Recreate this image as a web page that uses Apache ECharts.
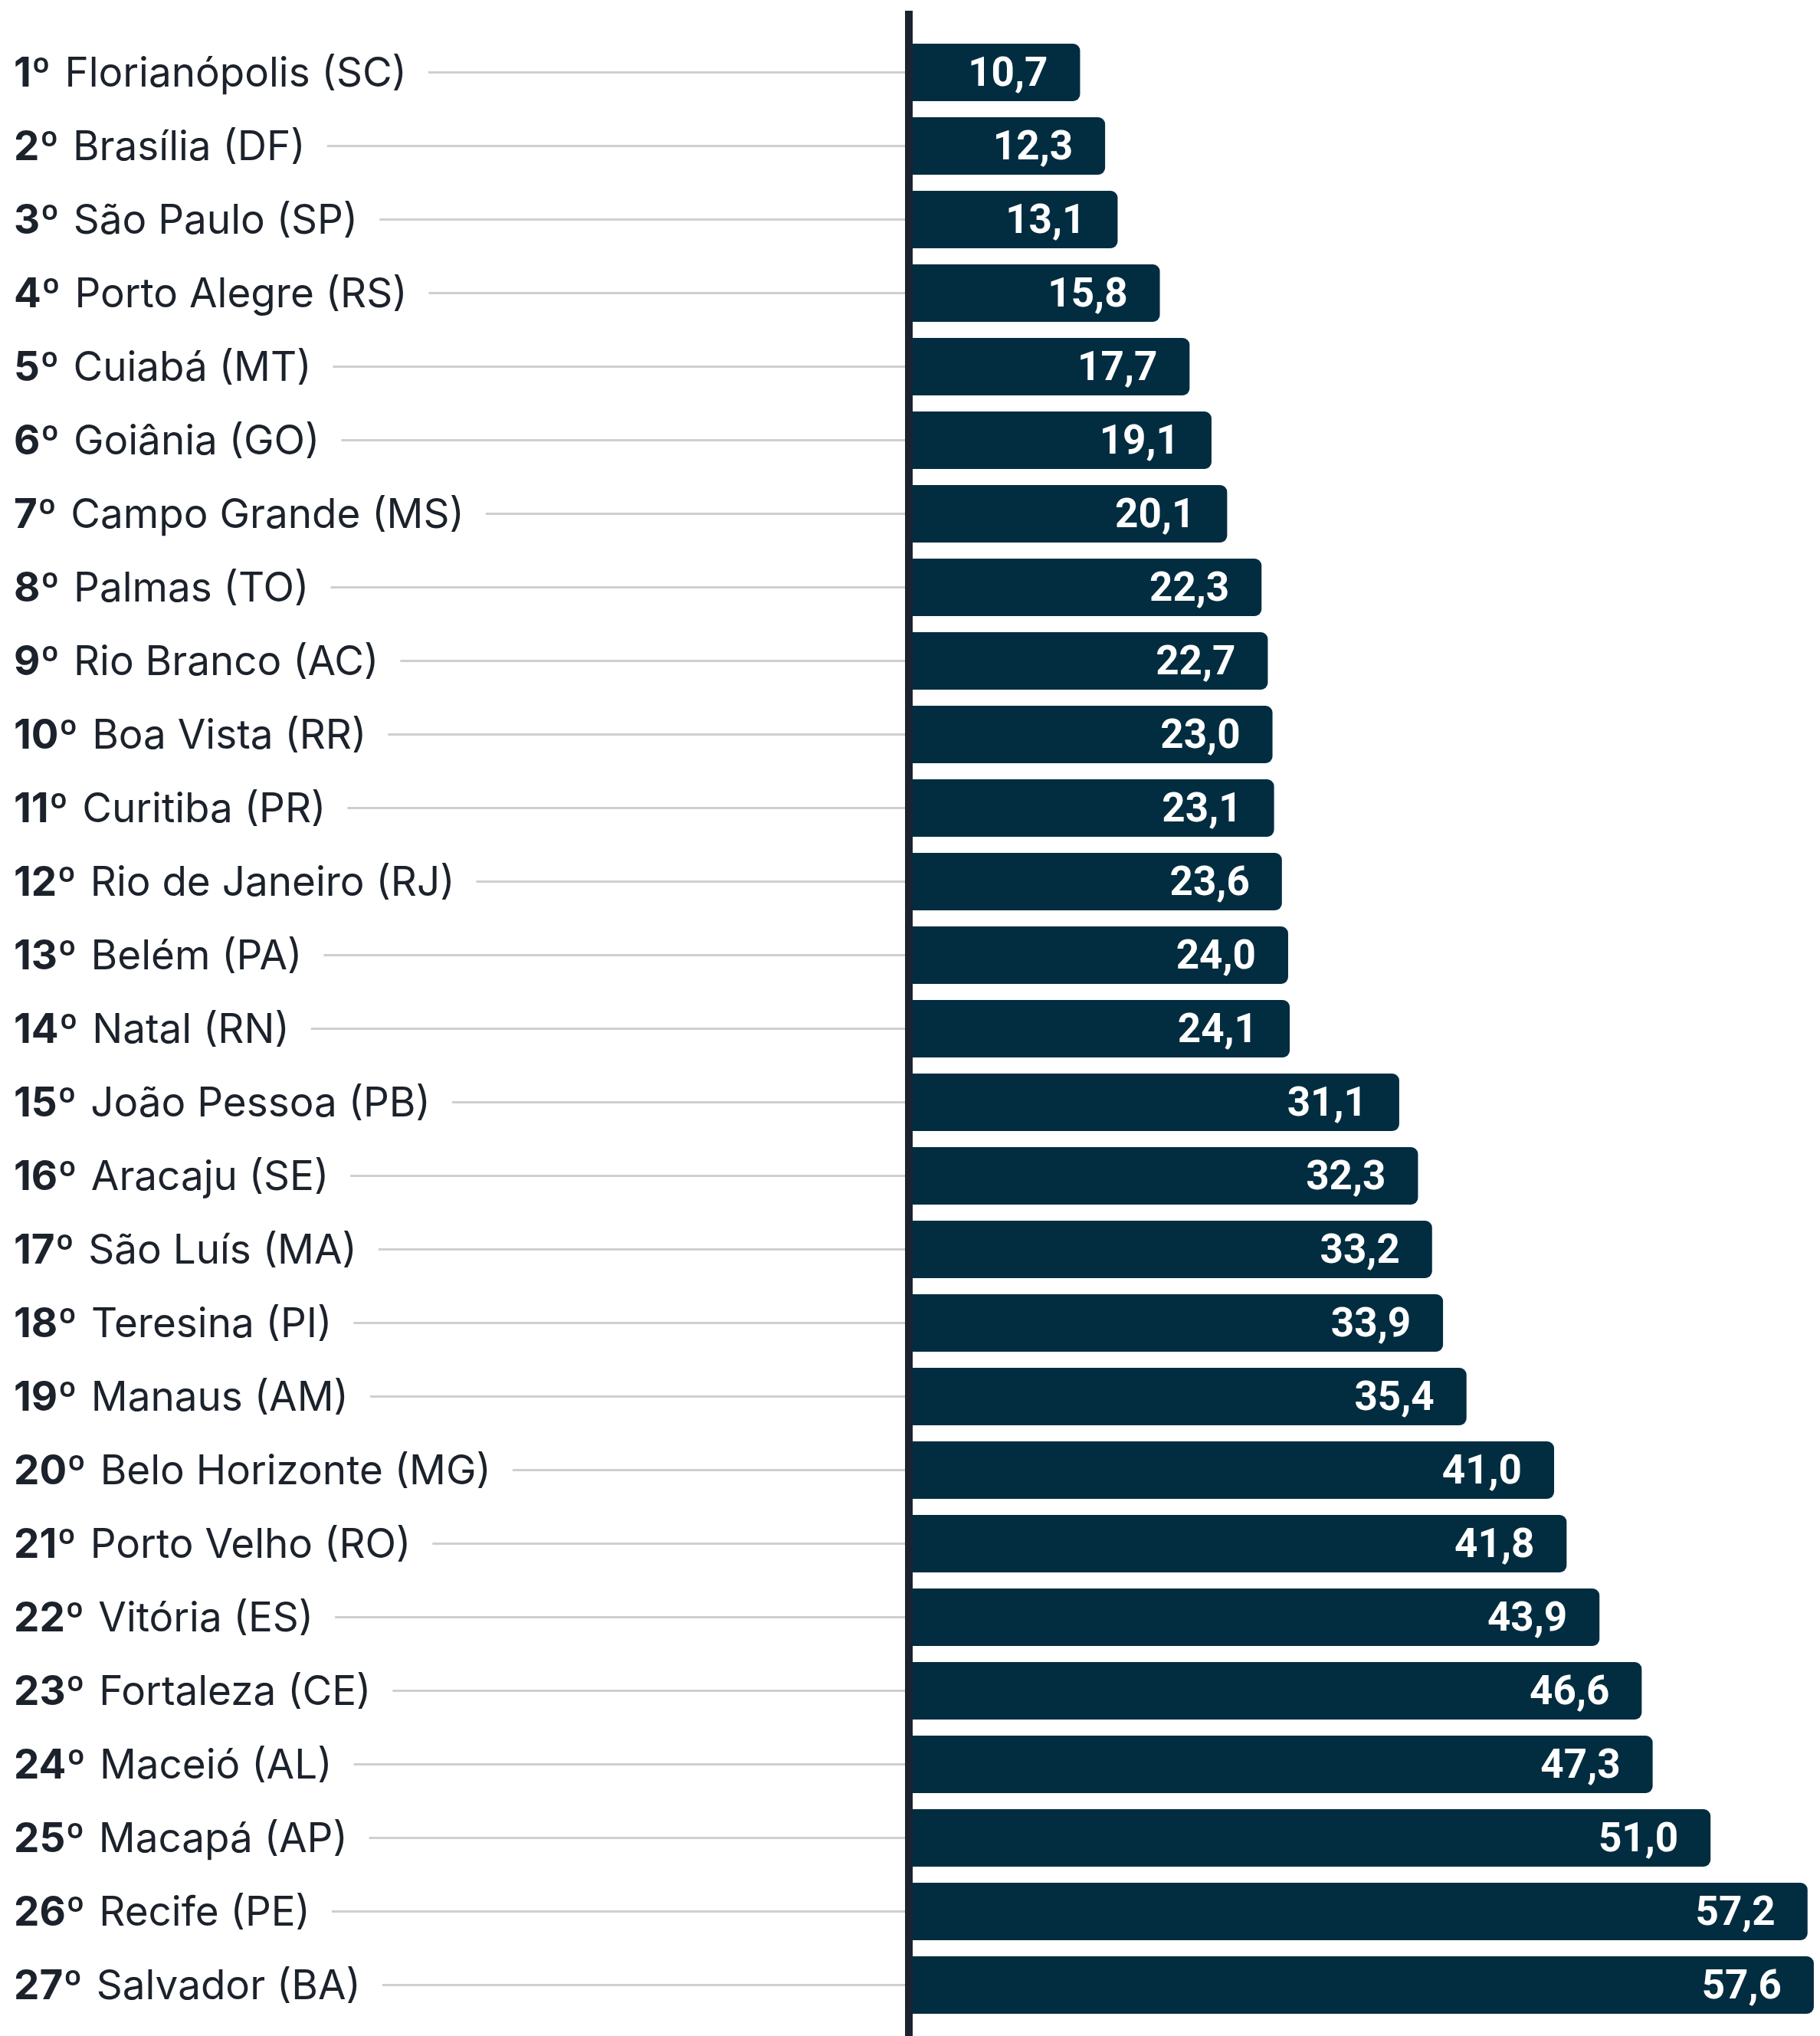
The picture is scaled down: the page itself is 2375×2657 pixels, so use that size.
<!DOCTYPE html>
<html>
<head>
<meta charset="utf-8">
<script src="https://cdn.jsdelivr.net/npm/echarts@6/dist/echarts.min.js"></script>
<style>
  html, body { margin: 0; padding: 0; background: #fff; }
  #chart { width: 2375px; height: 2657px; }
</style>
</head>
<body>
<div id="chart"></div>
<script>
// posição no ranking e capitais
const ranks = ['1º','2º','3º','4º','5º','6º','7º','8º','9º','10º','11º','12º','13º','14º',
  '15º','16º','17º','18º','19º','20º','21º','22º','23º','24º','25º','26º','27º']
const cities = ['Florianópolis (SC)','Brasília (DF)','São Paulo (SP)','Porto Alegre (RS)',
  'Cuiabá (MT)','Goiânia (GO)','Campo Grande (MS)','Palmas (TO)','Rio Branco (AC)',
  'Boa Vista (RR)','Curitiba (PR)','Rio de Janeiro (RJ)','Belém (PA)','Natal (RN)',
  'João Pessoa (PB)','Aracaju (SE)','São Luís (MA)','Teresina (PI)','Manaus (AM)',
  'Belo Horizonte (MG)','Porto Velho (RO)','Vitória (ES)','Fortaleza (CE)','Maceió (AL)',
  'Macapá (AP)','Recife (PE)','Salvador (BA)']
const values = [10.7,12.3,13.1,15.8,17.7,19.1,20.1,22.3,22.7,23.0,23.1,23.6,24.0,24.1,
  31.1,32.3,33.2,33.9,35.4,41.0,41.8,43.9,46.6,47.3,51.0,57.2,57.6]

const barColor = '#022d40'
const textColor = '#1c222b'

const categories = cities.map((c, i) => `${ranks[i]}|${c}`)

const chart = echarts.init(document.getElementById('chart'))
chart.setOption({
  animation: false,
  backgroundColor: '#fff',
  grid: { left: 1191, right: 4, top: 46.5, bottom: 18.5, containLabel: false },
  xAxis: {
    type: 'value',
    min: 0,
    max: 57.8,
    show: false
  },
  yAxis: {
    type: 'category',
    inverse: true,
    data: categories,
    axisLine: { show: false },
    axisTick: {
      show: true,
      alignWithLabel: true,
      length: 1173,
      lineStyle: { color: '#cfcfcf', width: 3 }
    },
    axisLabel: {
      align: 'left',
      margin: 1173,
      backgroundColor: '#fff',
      padding: [5, 28, 0, 0],
      formatter: (v) => {
        const [r, c] = v.split('|')
        return `{r|${r}}{c|${c}}`
      },
      rich: {
        r: { fontFamily: 'Inter', fontWeight: 'bold', fontSize: 53, color: textColor, padding: [0, 18, 0, 0] },
        c: { fontFamily: 'Inter', fontSize: 53, color: textColor }
      }
    }
  },
  series: [
    {
      type: 'bar',
      data: values,
      barWidth: 75,
      itemStyle: { color: barColor, borderRadius: [0, 9, 9, 0] },
      label: {
        show: true,
        position: 'insideRight',
        distance: 42,
        offset: [0, 4],
        fontFamily: 'Roboto',
        fontWeight: 'bold',
        fontSize: 53,
        color: '#fff',
        formatter: (p) => p.value.toFixed(1).replace('.', ',')
      }
    }
  ],
  graphic: [
    // linha vertical do eixo, passa do topo ao fim da imagem
    {
      type: 'rect',
      shape: { x: 1181, y: 14, width: 10, height: 2643 },
      style: { fill: '#1b2330' },
      z: 100
    }
  ]
})
</script>
</body>
</html>
